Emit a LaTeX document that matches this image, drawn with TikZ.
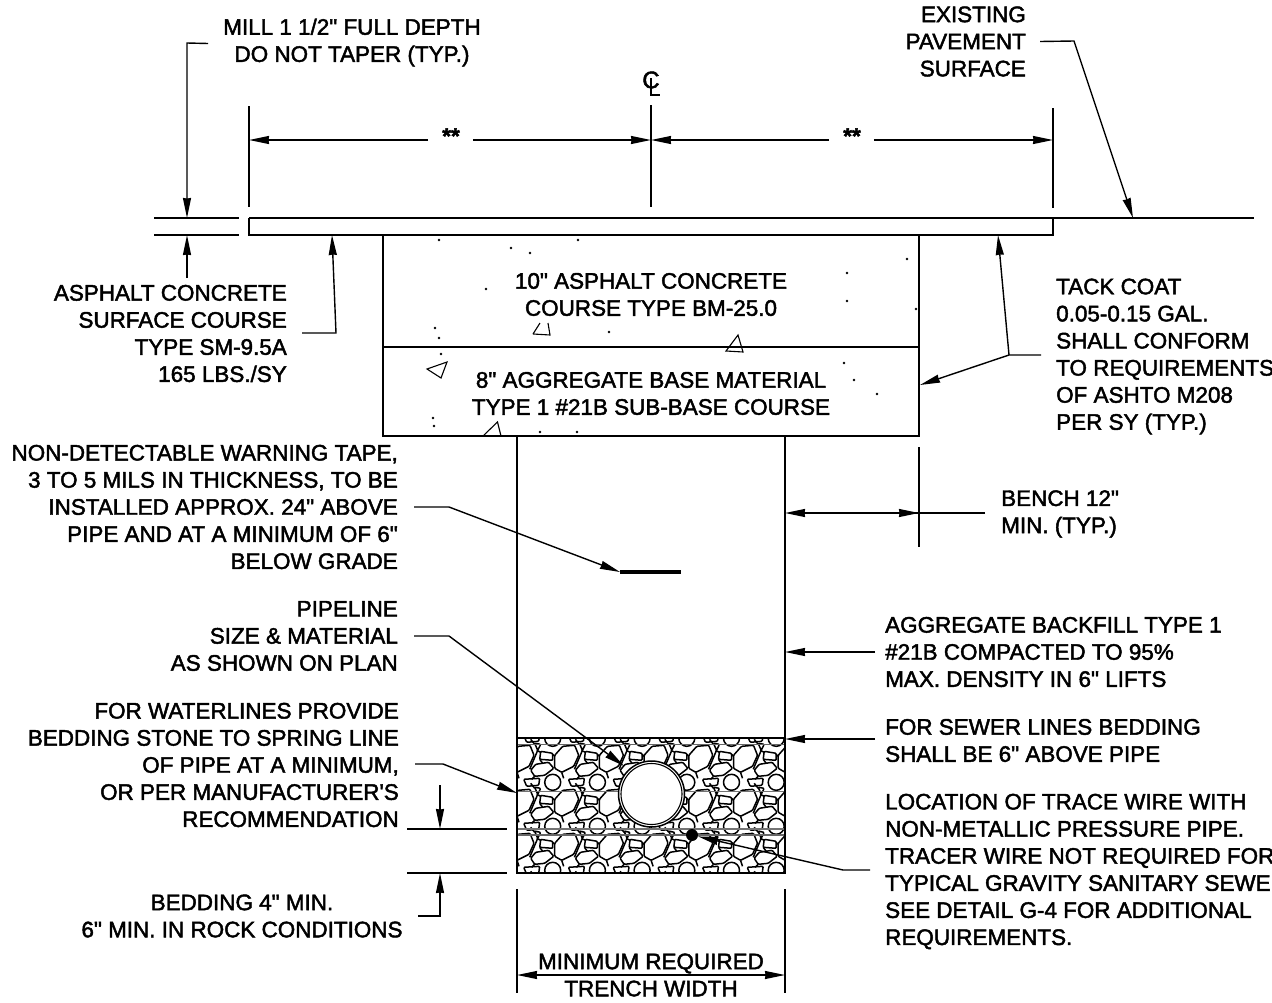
\documentclass[tikz,border=0pt]{standalone}
\usepackage{fontspec}
\setmainfont{Liberation Sans}[Ligatures=TeXOff,FakeBold=2]
\usetikzlibrary{arrows.meta}
\begin{document}
\begin{tikzpicture}[x=1pt,y=-1pt]
	\tikzstyle{line}=[line width=1.5pt]
	\tikzstyle{thin line}=[line width=1.1pt]
	\tikzstyle{leader}=[line width=1.4pt,-{Stealth[length=20pt,width=8pt,inset=0.5pt]}]
	\tikzstyle{note}=[inner sep=0pt,font=\fontsize{22.45}{27.1}\selectfont]
	\tikzstyle{note r}=[note,align=right,anchor=east]
	\tikzstyle{note l}=[note,align=left,anchor=west]
	\tikzstyle{note c}=[note,align=center]
	\tikzstyle{stone}=[line width=1.5pt,line join=round,rounded corners=1pt]
	\tikzstyle{speck}=[circle,fill=black,inner sep=0pt,minimum size=2.6pt]
	\newcommand*{\stones}{
		\draw[stone] (-3,-5) -- (3,-4) -- (0,2) -- cycle;
		\draw[stone] (0,2) -- (-8,21) (-1,2) -- (3,4) (2,11) -- (5,15) (15,6) -- (17,8) (-3,-4) -- (-7,-9);
		\draw[stone] (17,7) -- (25,-2) -- (37,-3) -- (41,7) -- (36,18) -- (24,24) -- (17,20) -- cycle;
		\draw[stone] (-7,22) -- (-2,16) -- (11,14) -- (16,20) -- (7,27) -- (-3,28) -- cycle;
		\draw[stone] (3,3) -- (15,5) -- (15,12) -- (2,11) -- cycle;
		\draw[stone] (-14,31) -- (2,30) -- (1,37) -- (-11,38) -- cycle;
		\draw[stone] (15,34) circle (8);
		\draw[stone] (-3,28) -- (-6,31) (24,24) -- (26,30);
	}
	\useasboundingbox (0,0) rectangle (1272,1002);

	% pavement
	\draw[line] (249,218) -- (1254,218);
	\draw[line] (249,218) -- (249,235) -- (1053,235) -- (1053,218);
	\draw[line] (154,218) -- (239,218) (154,235) -- (239,235);
	\draw[line] (383,235) -- (383,436) -- (919,436) -- (919,235);
	\draw[thin line] (383,347) -- (919,347);
	\draw[thin line] (533,334) -- (550,335) -- (548,323) (540,323) -- (533,334);
	\draw[thin line] (726,351) -- (743,352) -- (738,335) -- cycle;
	\draw[thin line] (427,369) -- (447,362) -- (441,378) -- cycle;
	\draw[thin line] (484,435) -- (497.5,422) -- (501,436);
	\foreach \sx/\sy in {439/240,511/248,530/253,578/240,486/289,907/259,847/273,847/301,916/309,435/328,439/338,609/332,441/354,844/363,854/380,877/394,433/418,434/426,540/432,577/432}
		\node[speck] at (\sx,\sy) {};

	% trench
	\begin{scope}
		\clip (518,738) rectangle (785,873);
		\foreach \i in {-1,...,6}
			\foreach \j in {-1,...,3}
				\begin{scope}[shift={(537.7+44.7*\i,748.3+44*\j)}]
					\stones
				\end{scope}
		\draw[line width=1.8pt,black!55] (518,791.5) -- (785,791.5) (518,829) -- (785,829);
		\draw[thin line,black!60] (518,744.5) -- (785,744.5) (518,835) -- (785,835);
	\end{scope}
	\draw[line] (517,436) -- (517,873) -- (785,873) -- (785,436);
	\draw[thin line] (517,738) -- (785,738);
	\node[circle,draw,line width=1.5pt,fill=white,minimum size=66pt,inner sep=0pt] (pipe) at (651.5,794) {};
	\draw[thin line] (pipe.center) circle (30.5);
	\node[circle,fill=black,minimum size=12pt,inner sep=0pt] (wire) at (692,835) {};
	\draw[line width=3.4pt] (620,572) coordinate (tape) -- (681,572);

	% centre line and dimensions
	\draw[line] (249,106) -- (249,207) (1053,108) -- (1053,208) (651,105) -- (651,207);
	\node[note c] (cl) at (651,80) {\fontsize{24}{24}\selectfont C};
	\draw[line] (651,78) -- (651,95) -- (660,95);
	\coordinate (dl) at (249,140);
	\coordinate (dm) at (651,140);
	\coordinate (dr) at (1053,140);
	\node[note c] (st1) at (451,136) {\textbf{**}};
	\node[note c] (st2) at (852,136) {\textbf{**}};
	\draw[leader] (st1.west)++(-14,4) -- (dl);
	\draw[leader] (st1.east)++(13,4) -- (dm);
	\draw[leader] (st2.west)++(-14,4) -- (dm);
	\draw[leader] (st2.east)++(13,4) -- (dr);

	% top notes
	\node[note c] (mill) at (352,42.5) {MILL 1 1/2" FULL DEPTH\\DO NOT TAPER (TYP.)};
	\draw[leader] (mill.west)++(-15,1) -- (187,43) -- (187,218);
	\node[note r] (surface) at (1026,41.5) {EXISTING\\PAVEMENT\\SURFACE};
	\draw[leader] (surface.east)++(14,0) -- (1074,41) -- (1133,218);

	% left notes
	\node[note r] (sm95) at (287,333.5) {ASPHALT CONCRETE\\SURFACE COURSE\\TYPE SM-9.5A\\165 LBS./SY};
	\draw[leader] (187,278) -- (187,235);
	\coordinate (sma) at (302,333);
	\coordinate (smb) at (336,333);
	\draw[leader] (sma) -- (smb) -- (332,235);
	\node[note r] (tape note) at (398,507) {NON-DETECTABLE WARNING TAPE,\\3 TO 5 MILS IN THICKNESS, TO BE\\INSTALLED APPROX. 24" ABOVE\\PIPE AND AT A MINIMUM OF 6"\\BELOW GRADE};
	\draw[leader] (414,507) -- (449,507) -- (tape);
	\node[note r] (pipeline) at (398,636) {PIPELINE\\SIZE \& MATERIAL\\AS SHOWN ON PLAN};
	\draw[leader] (414,636) -- (449,636) -- (624,766);
	\node[note r] (water) at (399,765) {FOR WATERLINES PROVIDE\\BEDDING STONE TO SPRING LINE\\OF PIPE AT A MINIMUM,\\OR PER MANUFACTURER'S\\RECOMMENDATION};
	\draw[leader] (415,764) -- (443,764) -- (517,793);
	\node[note c] (bedding) at (242,916) {BEDDING 4" MIN.\\6" MIN. IN ROCK CONDITIONS};
	\draw[line] (407,829) -- (507,829) (407,873) -- (507,873);
	\draw[leader] (440,785) -- (440,829);
	\draw[leader] (418,916) -- (440,916) -- (440,873);

	% right notes
	\node[note l] (tack) at (1056,356.5) {TACK COAT\\0.05-0.15 GAL.\\SHALL CONFORM\\TO REQUIREMENTS\\OF ASHTO M208\\PER SY (TYP.)};
	\coordinate (tacka) at (1041,355);
	\coordinate (tackb) at (1009,355);
	\draw[leader] (tacka) -- (tackb) -- (998,235);
	\draw[leader] (tackb) -- (920,385);
	\node[note l] (bench) at (1001,514) {BENCH 12"\\MIN. (TYP.)};
	\draw[line] (919,447) -- (919,547);
	\draw[leader] (851,513) -- (785,513);
	\draw[leader] (985,513) -- (851,513) -- (919,513);
	\node[note l] (backfill) at (885,652) {AGGREGATE BACKFILL TYPE 1\\\#21B COMPACTED TO 95\%\\MAX. DENSITY IN 6" LIFTS};
	\draw[leader] (875,652) -- (785,652);
	\node[note l] (sewer) at (885,740.5) {FOR SEWER LINES BEDDING\\SHALL BE 6" ABOVE PIPE};
	\draw[leader] (875,739) -- (785,739);
	\node[note l] (trace) at (885,871.5) {LOCATION OF TRACE WIRE WITH\\NON-METALLIC PRESSURE PIPE.\\TRACER WIRE NOT REQUIRED FOR\\TYPICAL GRAVITY SANITARY SEWE\\SEE DETAIL G-4 FOR ADDITIONAL\\REQUIREMENTS.};
	\draw[leader] (870,870) -- (843,870) -- (wire);

	% layer notes
	\node[note c] (ac) at (651,294.5) {10" ASPHALT CONCRETE\\COURSE TYPE BM-25.0};
	\node[note c] (ab) at (651,393.5) {8" AGGREGATE BASE MATERIAL\\TYPE 1 \#21B SUB-BASE COURSE};

	% width
	\draw[line] (517,889) -- (517,993) (785,889) -- (785,993);
	\coordinate (wl) at (517,975);
	\coordinate (wr) at (785,975);
	\draw[leader] (651,975) -- (wl);
	\draw[leader] (651,975) -- (wr);
	\node[note c] (width) at (651,975) {MINIMUM REQUIRED\\[0pt]TRENCH WIDTH};
\end{tikzpicture}
\end{document}
